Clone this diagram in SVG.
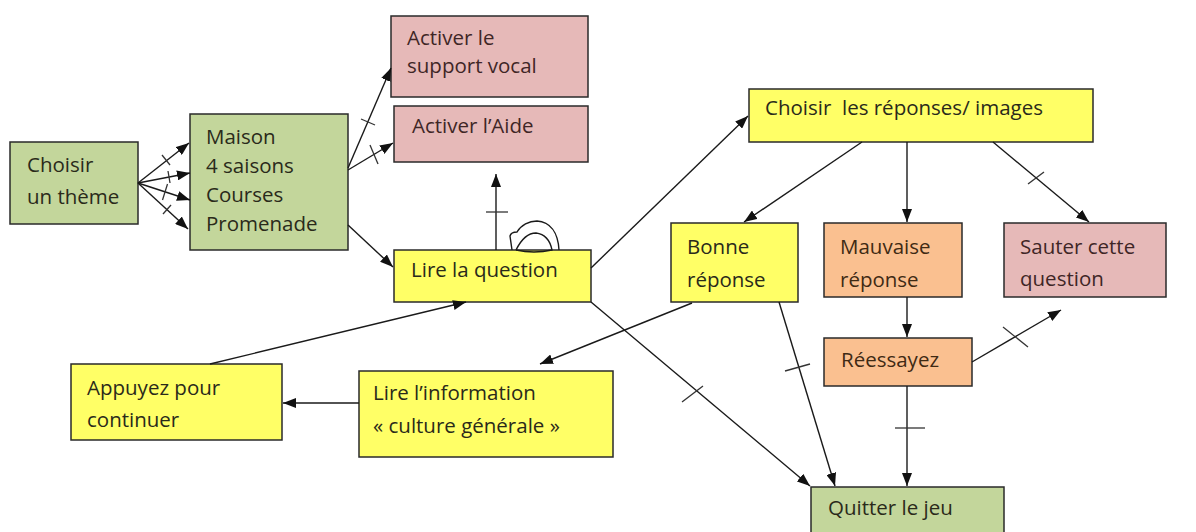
<svg xmlns="http://www.w3.org/2000/svg" width="1196" height="532" viewBox="0 0 1196 532">
<style>
.box{stroke:#2a2a2a;stroke-width:1.5}
.g{fill:#c3d69b}.p{fill:#e6b9b8}.y{fill:#ffff66}.o{fill:#fac090}
text{font-family:"Open Sans","Liberation Sans",sans-serif;font-size:20.5px;fill:#2a2a1a}
.pt{fill:#3f2626}.ot{fill:#3f2a14}
.c line,.c path{stroke:#1a1a1a;stroke-width:1.4;fill:none}
.c .a{marker-end:url(#ah)}
.c .t{stroke:#333;stroke-width:1.3}
</style>
<defs>
<marker id="ah" markerWidth="13" markerHeight="10" refX="13" refY="5" orient="auto" markerUnits="userSpaceOnUse">
<path d="M0,0 L13,5 L0,10 z" fill="#111"/>
</marker>
</defs>
<rect width="1196" height="532" fill="#fff"/>

<g id="choisir-theme"><rect class="box g" x="10" y="142" width="128" height="82"/><text x="27" y="172">Choisir</text><text x="27" y="204">un thème</text></g>
<g id="themes"><rect class="box g" x="190" y="114" width="158" height="136"/><text x="206" y="144">Maison</text><text x="206" y="173">4 saisons</text><text x="206" y="202">Courses</text><text x="206" y="231">Promenade</text></g>
<g id="support-vocal"><rect class="box p" x="391" y="16" width="197" height="81"/><text class="pt" x="407" y="45">Activer le</text><text class="pt" x="407" y="73">support vocal</text></g>
<g id="aide"><rect class="box p" x="394" y="106" width="194" height="56"/><text class="pt" x="412" y="133">Activer l’Aide</text></g>
<g id="lire-question"><rect class="box y" x="394" y="250" width="197" height="52"/><text x="411" y="277">Lire la question</text></g>
<g id="choisir-reponses"><rect class="box y" x="749" y="89" width="344" height="53"/><text x="765" y="115">Choisir&#160; les réponses/ images</text></g>
<g id="bonne"><rect class="box y" x="671" y="223" width="127" height="79"/><text x="687" y="254">Bonne</text><text x="687" y="287">réponse</text></g>
<g id="mauvaise"><rect class="box o" x="824" y="223" width="138" height="74"/><text class="ot" x="840" y="254">Mauvaise</text><text class="ot" x="840" y="287">réponse</text></g>
<g id="sauter"><rect class="box p" x="1004" y="223" width="162" height="74"/><text class="pt" x="1020" y="254">Sauter cette</text><text class="pt" x="1020" y="286">question</text></g>
<g id="reessayez"><rect class="box o" x="824" y="338" width="148" height="48"/><text class="ot" x="841" y="367">Réessayez</text></g>
<g id="quitter"><rect class="box g" x="811" y="487" width="193" height="60"/><text x="828" y="515">Quitter le jeu</text></g>
<g id="appuyez"><rect class="box y" x="71" y="364" width="211" height="76"/><text x="87" y="395">Appuyez pour</text><text x="87" y="427">continuer</text></g>
<g id="lire-info"><rect class="box y" x="359" y="371" width="254" height="86"/><text x="373" y="400">Lire l’information</text><text x="373" y="433">« culture générale »</text></g>

<g id="connectors" class="c">
<line class="a" x1="138" y1="183" x2="189" y2="143"/>
<line class="a" x1="138" y1="183" x2="190" y2="173"/>
<line class="a" x1="138" y1="183" x2="190" y2="200"/>
<line class="a" x1="138" y1="183" x2="188" y2="229"/>
<line class="t" x1="162" y1="155" x2="170" y2="165"/>
<line class="t" x1="168" y1="171" x2="170" y2="183"/>
<line class="t" x1="167.5" y1="184" x2="162.5" y2="200"/>
<line class="t" x1="171" y1="205" x2="163" y2="214"/>

<line class="a" x1="348" y1="168" x2="391" y2="68"/>
<line class="t" x1="361" y1="119" x2="375" y2="125"/>
<line class="a" x1="348" y1="170" x2="393" y2="143"/>
<line class="t" x1="370" y1="145" x2="378" y2="164"/>
<line class="a" x1="348" y1="225" x2="393" y2="267"/>

<line class="a" x1="496" y1="250" x2="496" y2="174"/>
<line class="t" x1="486" y1="212" x2="508" y2="212"/>
<path d="M512 250 L510 236 Q511 232 517 232 C521 225 529 221 537 221 C550 222 558 232 559 250"/>
<path d="M516 250 C521 240 528 233 536 233 C544 234 550 240 552 250 Q534 254 516 250"/>

<line class="a" x1="591" y1="268" x2="748" y2="116"/>
<line class="a" x1="862" y1="142" x2="744" y2="222"/>
<line class="a" x1="907" y1="142" x2="907" y2="222"/>
<line class="a" x1="993" y1="142" x2="1089" y2="222"/>
<line class="t" x1="1028" y1="184" x2="1044" y2="172"/>

<line class="a" x1="907" y1="297" x2="907" y2="337"/>
<line class="a" x1="972" y1="362" x2="1061" y2="310"/>
<line class="t" x1="1003" y1="327" x2="1028" y2="347"/>
<line class="a" x1="907" y1="386" x2="907" y2="486"/>
<line class="t" x1="895" y1="428" x2="925" y2="428"/>

<line class="a" x1="779" y1="302" x2="835" y2="486"/>
<line class="t" x1="785" y1="371" x2="810" y2="364"/>
<line class="a" x1="591" y1="302" x2="810" y2="486"/>
<line class="t" x1="682" y1="402" x2="703" y2="386"/>

<line class="a" x1="692" y1="303" x2="540" y2="364"/>
<line class="a" x1="210" y1="364" x2="466" y2="302"/>
<line class="a" x1="359" y1="403" x2="283" y2="403"/>
</g>
</svg>
